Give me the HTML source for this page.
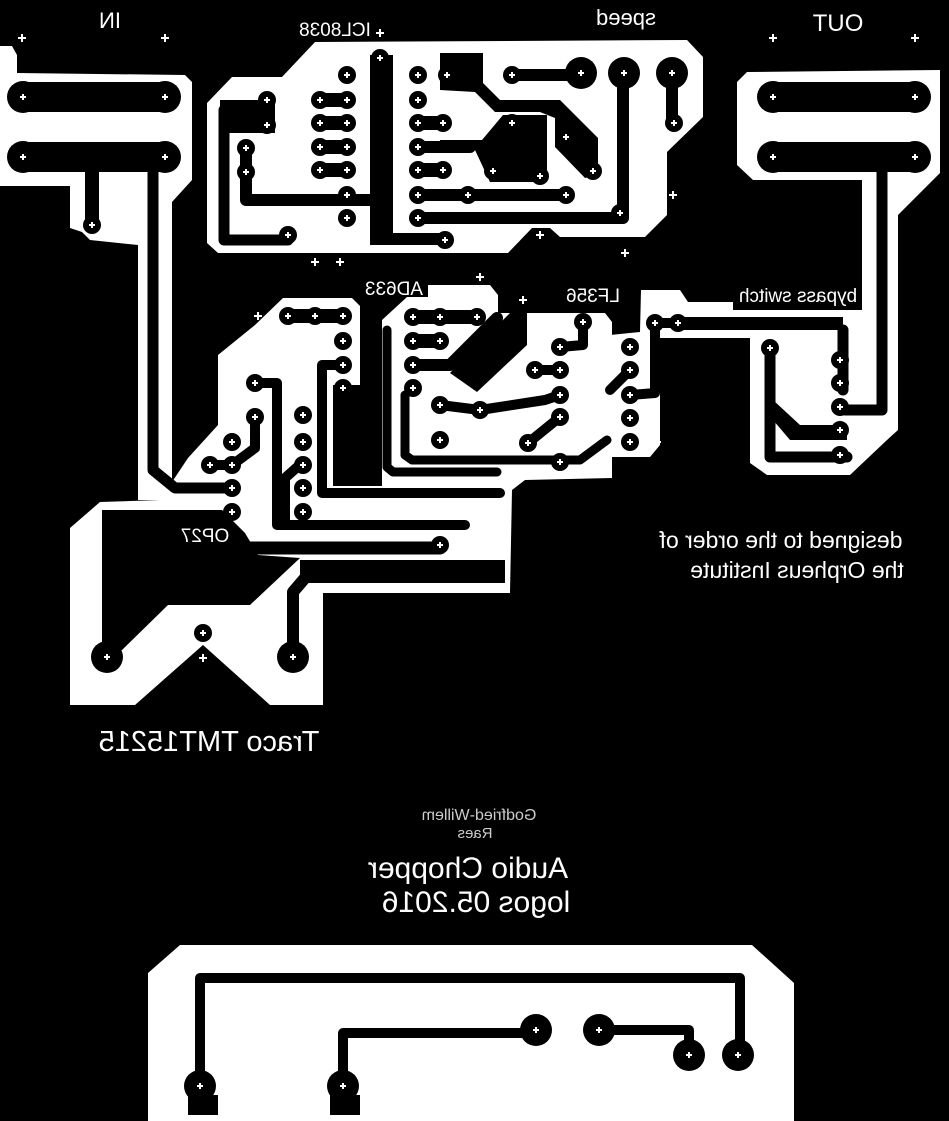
<!DOCTYPE html>
<html><head><meta charset="utf-8"><style>
html,body{margin:0;padding:0;background:#000}
svg{display:block}
text{font-family:"Liberation Sans",sans-serif;fill:#fff}
</style></head><body>
<svg width="949" height="1121" viewBox="0 0 949 1121" xmlns="http://www.w3.org/2000/svg">
<defs>
<g id="p"><circle r="9" fill="#000"/><path d="M-3 0H3M0 -3V3" stroke="#fff" stroke-width="2"/></g>
<g id="P"><circle r="16" fill="#000"/><path d="M-3 0H3M0 -3V3" stroke="#fff" stroke-width="2"/></g>
<g id="c"><path d="M-4 0H4M0 -4V4" stroke="#fff" stroke-width="2"/></g>
</defs>
<rect width="949" height="1121" fill="#000"/>
<g fill="#fff">
<polygon points="0,46 12,46 17,55 17,73 185,75 192,82 192,180 172,202 172,500 138,500 138,245 90,240 82,232 70,228 70,186 0,186"/>
<polygon points="207,103 232,77 282,77 315,42 687,40 703,57 703,117 667,152 667,215 645,237 560,237 550,228 532,228 508,253 218,253 207,243"/>
<polygon points="70,528 100,502 160,500 188,458 218,425 218,355 255,325 283,298 352,298 360,306 360,320 382,320 407,297 428,297 428,285 490,285 498,295 498,313 605,313 612,322 612,478 525,480 512,490 510,593 323,593 323,705 270,705 203,645 135,705 70,705"/>
<polygon points="610,335 640,332 641,290 680,290 688,302 733,302 733,310 862,310 862,180 753,180 737,165 737,82 747,72 940,70 940,173 898,215 898,430 887,440 850,475 767,475 750,463 750,338 660,338 660,445 650,457 607,457"/>
<polygon points="148,973 180,945 752,945 794,983 794,1121 148,1121"/>
</g>
<g fill="#000">
<rect x="360" y="306" width="22" height="180"/>
<rect x="333" y="385" width="49" height="101"/>
<polygon points="102,510 222,510 245,533 258,555 300,558 250,605 168,605 122,650 102,650"/>
<polygon points="513,310 527,310 527,345 477,392 450,373"/>
<rect x="300" y="560" width="205" height="23"/>
<rect x="370" y="55" width="23" height="190"/>
<rect x="370" y="233" width="78" height="12"/>
<rect x="220" y="100" width="55" height="33"/>
<polygon points="440,53 483,53 483,83 500,100 560,100 598,138 598,175 585,178 555,147 555,118 540,112 495,112 475,92 440,90"/>
<polygon points="490,182 547,182 547,115 503,115 482,140 440,140 440,150 475,150"/>
<rect x="735" y="283" width="127" height="27"/>
<rect x="683" y="317" width="160" height="13"/>
<polygon points="773,400 800,425 847,425 847,440 790,440 773,420"/>
<rect x="188" y="1095" width="30" height="20"/>
<rect x="330" y="1095" width="30" height="20"/>
</g>
<g fill="none" stroke="#000" stroke-linecap="round" stroke-linejoin="round">
<path d="M23 97H165M23 157H165M773 97H915M773 157H915" stroke-width="30"/>
<path d="M92 157V225" stroke-width="14"/>
<path d="M153 157V470L175 488H231" stroke-width="11"/>
<path d="M224 110V240H288" stroke-width="11"/>
<path d="M246 148V200H370" stroke-width="12"/>
<path d="M320 100H347M320 123H347M320 147H347M320 170H347" stroke-width="14"/>
<path d="M418 123H443M418 170H443" stroke-width="14"/>
<path d="M418 147H470M418 195H566M418 218H623V73" stroke-width="12"/>
<path d="M512 75H581M672 73V123" stroke-width="12"/>
<path d="M288 316H343" stroke-width="14"/>
<path d="M343 365H322V493H500" stroke-width="10"/>
<path d="M255 383H277V525H465" stroke-width="10"/>
<path d="M255 417V448L232 465H210" stroke-width="10"/>
<path d="M303 462L285 478V520" stroke-width="10"/>
<path d="M250 548H440" stroke-width="13"/>
<path d="M293 657V592L305 578" stroke-width="12"/>
<path d="M413 317H477M413 341H440" stroke-width="14"/>
<path d="M413 365H450L497 318" stroke-width="12"/>
<path d="M387 330V467L393 472H497" stroke-width="9"/>
<path d="M405 395V455L412 460H580L607 440" stroke-width="9"/>
<path d="M440 405L480 410L545 400L560 395M528 443L560 417M535 370H560M583 322V345L560 347" stroke-width="10"/>
<path d="M655 323H678M655 330V393L630 395M630 370L610 390" stroke-width="10"/>
<path d="M770 348V457H847M843 330V390" stroke-width="11"/>
<path d="M882 157V410H845" stroke-width="11"/>
<path d="M200 1086V978H740V1055M343 1086V1033H536M599 1030H689V1055" stroke-width="10"/>
</g>
<g>
<use href="#P" x="23" y="97"/><use href="#P" x="165" y="97"/><use href="#P" x="23" y="157"/><use href="#P" x="165" y="157"/>
<use href="#P" x="773" y="97"/><use href="#P" x="915" y="97"/><use href="#P" x="773" y="157"/><use href="#P" x="915" y="157"/>
<use href="#P" x="581" y="73"/><use href="#P" x="624" y="73"/><use href="#P" x="672" y="73"/>
<use href="#P" x="107" y="657"/><use href="#P" x="293" y="657"/>
<use href="#P" x="200" y="1086"/><use href="#P" x="343" y="1086"/><use href="#P" x="536" y="1030"/><use href="#P" x="599" y="1030"/><use href="#P" x="689" y="1055"/><use href="#P" x="738" y="1055"/>
<use href="#p" x="92" y="225"/>
<use href="#p" x="347" y="75"/><use href="#p" x="347" y="100"/><use href="#p" x="347" y="123"/><use href="#p" x="347" y="147"/><use href="#p" x="347" y="170"/><use href="#p" x="347" y="195"/><use href="#p" x="347" y="218"/>
<use href="#p" x="320" y="100"/><use href="#p" x="320" y="123"/><use href="#p" x="320" y="147"/><use href="#p" x="320" y="170"/>
<use href="#p" x="418" y="75"/><use href="#p" x="418" y="100"/><use href="#p" x="418" y="123"/><use href="#p" x="418" y="147"/><use href="#p" x="418" y="170"/><use href="#p" x="418" y="195"/><use href="#p" x="418" y="218"/>
<use href="#p" x="447" y="75"/><use href="#p" x="443" y="123"/><use href="#p" x="443" y="170"/><use href="#p" x="468" y="195"/>
<use href="#p" x="267" y="100"/><use href="#p" x="267" y="125"/><use href="#p" x="246" y="148"/><use href="#p" x="246" y="172"/><use href="#p" x="288" y="235"/><use href="#p" x="380" y="58"/><use href="#p" x="445" y="240"/>
<use href="#p" x="512" y="75"/><use href="#p" x="674" y="123"/><use href="#p" x="512" y="123"/><use href="#p" x="493" y="171"/><use href="#p" x="540" y="176"/><use href="#p" x="566" y="137"/><use href="#p" x="593" y="171"/><use href="#p" x="566" y="195"/><use href="#p" x="620" y="213"/>
<use href="#p" x="288" y="316"/><use href="#p" x="315" y="316"/><use href="#p" x="343" y="316"/><use href="#p" x="343" y="341"/><use href="#p" x="343" y="365"/><use href="#p" x="343" y="388"/>
<use href="#p" x="255" y="383"/><use href="#p" x="255" y="417"/><use href="#p" x="232" y="442"/><use href="#p" x="210" y="465"/><use href="#p" x="232" y="465"/><use href="#p" x="232" y="488"/><use href="#p" x="232" y="512"/>
<use href="#p" x="303" y="415"/><use href="#p" x="303" y="442"/><use href="#p" x="303" y="465"/><use href="#p" x="303" y="488"/><use href="#p" x="303" y="512"/>
<use href="#p" x="440" y="545"/><use href="#p" x="203" y="633"/>
<use href="#p" x="413" y="317"/><use href="#p" x="440" y="317"/><use href="#p" x="477" y="317"/><use href="#p" x="413" y="341"/><use href="#p" x="440" y="341"/><use href="#p" x="413" y="365"/><use href="#p" x="413" y="388"/>
<use href="#p" x="440" y="405"/><use href="#p" x="480" y="410"/><use href="#p" x="440" y="440"/><use href="#p" x="528" y="443"/>
<use href="#p" x="560" y="347"/><use href="#p" x="535" y="370"/><use href="#p" x="560" y="370"/><use href="#p" x="583" y="322"/><use href="#p" x="560" y="395"/><use href="#p" x="560" y="417"/><use href="#p" x="560" y="462"/>
<use href="#p" x="630" y="347"/><use href="#p" x="630" y="370"/><use href="#p" x="630" y="395"/><use href="#p" x="630" y="418"/><use href="#p" x="630" y="442"/>
<use href="#p" x="655" y="323"/><use href="#p" x="678" y="323"/>
<use href="#p" x="770" y="348"/><use href="#p" x="840" y="360"/><use href="#p" x="840" y="383"/><use href="#p" x="840" y="407"/><use href="#p" x="840" y="430"/><use href="#p" x="840" y="455"/>
</g>
<g>
<use href="#c" x="22" y="38"/><use href="#c" x="165" y="38"/><use href="#c" x="380" y="33"/><use href="#c" x="773" y="38"/><use href="#c" x="915" y="38"/>
<use href="#c" x="540" y="235"/><use href="#c" x="625" y="253"/><use href="#c" x="315" y="262"/><use href="#c" x="340" y="262"/><use href="#c" x="480" y="277"/><use href="#c" x="523" y="300"/><use href="#c" x="673" y="195"/>
<use href="#c" x="258" y="316"/><use href="#c" x="607" y="462"/><use href="#c" x="657" y="442"/><use href="#c" x="203" y="658"/>
</g>
<g>
<g transform="translate(110,28) scale(-1,1)"><text text-anchor="middle" font-size="22">IN</text></g>
<g transform="translate(335,36) scale(-1,1)"><text text-anchor="middle" font-size="19">ICL8038</text></g>
<g transform="translate(626,25) scale(-1,1)"><text text-anchor="middle" font-size="22">speed</text></g>
<g transform="translate(838,31) scale(-1,1)"><text text-anchor="middle" font-size="24">OUT</text></g>
<g transform="translate(394,295) scale(-1,1)"><text text-anchor="middle" font-size="19">AD633</text></g>
<g transform="translate(593,302) scale(-1,1)"><text text-anchor="middle" font-size="19">LF356</text></g>
<g transform="translate(798,302) scale(-1,1)"><text text-anchor="middle" font-size="19">bypass switch</text></g>
<g transform="translate(205,542) scale(-1,1)"><text text-anchor="middle" font-size="19">OP27</text></g>
<g transform="translate(781,548) scale(-1,1)"><text text-anchor="middle" font-size="23">designed to the order of</text></g>
<g transform="translate(797,578) scale(-1,1)"><text text-anchor="middle" font-size="23">the Orpheus Institute</text></g>
<g transform="translate(209,751) scale(-1,1)"><text text-anchor="middle" font-size="29">Traco TMT15215</text></g>
<g transform="translate(479,820) scale(-1,1)"><text text-anchor="middle" font-size="16" style="fill:#ccc">Godfried-Willem</text></g>
<g transform="translate(475,838) scale(-1,1)"><text text-anchor="middle" font-size="15" style="fill:#ccc">Raes</text></g>
<g transform="translate(468,878) scale(-1,1)"><text text-anchor="middle" font-size="30">Audio Chopper</text></g>
<g transform="translate(476,912) scale(-1,1)"><text text-anchor="middle" font-size="30">logos 05.2016</text></g>
</g>
</svg>
</body></html>
